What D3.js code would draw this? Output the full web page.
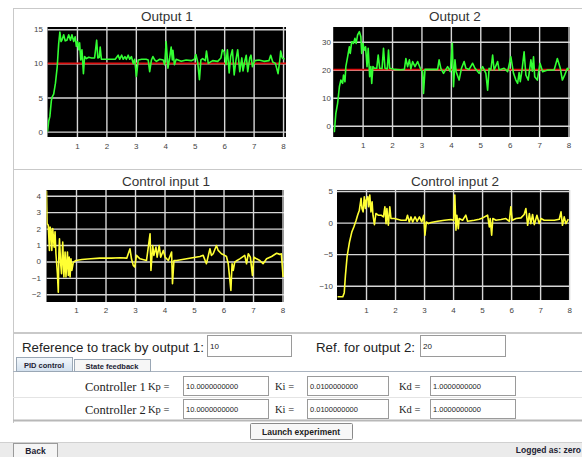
<!DOCTYPE html>
<html><head><meta charset="utf-8">
<script src="https://cdn.jsdelivr.net/npm/d3@7"></script>
<style>
body{margin:0;background:#fff;}
svg{display:block;font-family:Arial,"Liberation Sans",sans-serif;}
</style></head><body>
<svg id="c" width="582" height="457"></svg>
<script>
// ---------- data ----------
const xTicks = [1,2,3,4,5,6,7,8];
const out1Ticks = [0,5,10,15];
const out2Ticks = [0,10,20,30];
const ctl1Ticks = [-2,-1,0,1,2,3,4];
const ctl2Ticks = [-10,-5,0,5];
const ref1 = 10;
const ref2 = 20;
const titles = ["Output 1","Output 2","Control input 1","Control input 2"];

const output1 = [[0,0],[0.04,1.5],[0.08,2.2],[0.13,4.5],[0.16,5.1],[0.21,5.5],[0.27,7.1],[0.33,9.5],[0.38,12.9],[0.42,14.6],[0.46,13.2],[0.49,13.4],[0.55,14.2],[0.6,13.3],[0.66,13.4],[0.72,14.2],[0.78,13.4],[0.83,14.2],[0.89,13.2],[0.94,13.9],[0.98,12.5],[1.02,13.2],[1.06,12.0],[1.09,13.0],[1.13,10.5],[1.17,12.0],[1.22,8.5],[1.26,11.0],[1.32,10.7],[1.4,10.9],[1.5,10.8],[1.6,10.8],[1.67,13.4],[1.71,10.8],[1.76,10.9],[1.79,12.4],[1.83,10.6],[1.95,10.6],[2.1,10.6],[2.3,10.6],[2.4,11.2],[2.45,10.6],[2.52,11.2],[2.57,10.6],[2.63,11.0],[2.68,10.6],[2.74,11.2],[2.79,10.6],[2.85,11.0],[2.91,10.0],[2.96,10.6],[3.02,8.1],[3.08,10.5],[3.2,10.6],[3.35,10.6],[3.42,10.5],[3.47,8.8],[3.53,10.5],[3.58,11.0],[3.64,10.5],[3.7,10.3],[3.81,10.6],[3.93,10.5],[3.98,9.8],[4.03,13.2],[4.09,9.3],[4.15,10.8],[4.2,12.4],[4.24,10.5],[4.26,11.9],[4.31,9.8],[4.37,10.6],[4.54,10.3],[4.71,10.5],[4.88,10.4],[4.99,10.6],[5.04,11.3],[5.1,10.2],[5.16,7.6],[5.21,10.5],[5.27,10.7],[5.36,10.4],[5.4,11.8],[5.46,10.0],[5.61,10.4],[5.78,10.3],[5.89,10.8],[5.94,12.0],[6.0,11.7],[6.06,9.8],[6.11,12.0],[6.17,8.6],[6.22,11.0],[6.28,12.0],[6.34,8.3],[6.4,10.5],[6.46,12.0],[6.53,8.8],[6.6,10.8],[6.64,8.9],[6.71,10.5],[6.75,11.2],[6.8,8.8],[6.87,10.8],[6.91,11.2],[6.96,9.5],[7.04,10.4],[7.18,10.5],[7.35,10.3],[7.52,10.4],[7.58,11.2],[7.65,10.2],[7.74,10.0],[7.83,8.5],[7.89,10.5],[7.92,11.8],[7.97,10.8],[8.05,10.6]];

const output2 = [[0.02,-2.1],[0.04,-2.1],[0.09,4.4],[0.15,8.0],[0.21,13.9],[0.26,16.3],[0.32,15.1],[0.35,18.1],[0.40,15.7],[0.43,21.1],[0.49,24.6],[0.55,28.2],[0.58,25.8],[0.63,30.0],[0.69,29.4],[0.74,31.2],[0.78,29.4],[0.83,32.4],[0.89,33.6],[0.94,31.8],[0.97,25.8],[1.01,29.4],[1.06,27.0],[1.10,28.2],[1.15,21.1],[1.19,27.6],[1.24,17.5],[1.28,21.1],[1.31,15.1],[1.35,21.1],[1.40,20.5],[1.48,20.5],[1.53,25.2],[1.58,20.5],[1.66,20.4],[1.71,27.6],[1.76,20.5],[1.84,20.3],[1.88,27.0],[1.92,20.5],[2.1,20.1],[2.3,20.0],[2.42,20.1],[2.47,24.0],[2.53,21.1],[2.59,23.5],[2.64,20.3],[2.70,22.9],[2.78,21.1],[2.87,22.9],[2.96,20.5],[3.04,19.3],[3.07,11.5],[3.12,20.1],[3.3,20.1],[3.55,20.1],[3.60,23.5],[3.66,20.5],[3.75,18.7],[3.89,21.1],[3.98,19.3],[4.05,29.4],[4.09,13.9],[4.14,23.5],[4.18,19.3],[4.28,16.3],[4.36,20.5],[4.45,22.9],[4.51,20.5],[4.62,20.1],[4.74,22.3],[4.82,20.5],[4.96,18.7],[5.08,21.1],[5.19,18.7],[5.25,12.7],[5.30,20.5],[5.36,19.9],[5.42,25.2],[5.47,19.9],[5.59,22.9],[5.64,19.9],[5.81,20.5],[5.93,19.3],[6.04,24.6],[6.13,18.7],[6.21,16.3],[6.27,15.1],[6.32,19.0],[6.36,15.7],[6.42,20.0],[6.49,26.4],[6.55,18.1],[6.63,16.3],[6.72,23.5],[6.77,19.5],[6.81,24.6],[6.85,17.5],[6.94,16.3],[7.03,22.3],[7.12,19.3],[7.29,19.9],[7.51,19.9],[7.62,24.0],[7.72,20.5],[7.79,16.3],[7.87,18.1],[7.96,20.5],[8.02,20.0]];

const control1 = [[0,4.3],[0.02,2.3],[0.06,2.2],[0.10,0.67],[0.12,2.1],[0.15,1.9],[0.18,0.67],[0.21,2.0],[0.26,0.87],[0.29,1.8],[0.32,0.47],[0.37,-0.75],[0.40,-1.87],[0.42,0.5],[0.44,1.38],[0.48,-0.14],[0.51,-0.75],[0.55,1.18],[0.59,-0.95],[0.63,0.57],[0.66,-0.95],[0.71,0.57],[0.74,-0.85],[0.77,0.26],[0.80,-0.95],[0.83,0.16],[0.86,-0.55],[0.91,-0.04],[1.0,0.06],[1.2,0.12],[1.5,0.16],[1.81,0.2],[2.2,0.2],[2.5,0.22],[2.72,0.2],[2.83,0.77],[2.88,0.16],[2.94,-0.24],[2.99,-0.34],[3.05,0.37],[3.17,0.16],[3.39,0.06],[3.51,1.68],[3.54,-0.55],[3.60,0.97],[3.64,0.37],[3.71,0.87],[3.75,0.26],[3.82,0.97],[3.87,0.26],[3.96,0.67],[4.02,0.26],[4.13,0.06],[4.24,0.57],[4.27,-1.36],[4.32,0.06],[4.41,0.06],[4.8,0.18],[5.20,0.3],[5.31,0.37],[5.42,-0.14],[5.54,0.77],[5.59,0.37],[5.65,0.47],[5.76,0.97],[5.82,0.67],[5.93,0.47],[6.04,0.37],[6.10,0.3],[6.16,-0.14],[6.21,-1.05],[6.25,-1.76],[6.29,-0.14],[6.33,-0.55],[6.38,-0.04],[6.46,0.06],[6.55,0.16],[6.72,0.37],[6.78,-0.14],[6.84,0.47],[6.91,0.26],[6.98,-0.85],[7.03,0.26],[7.12,0.16],[7.23,0.06],[7.34,-0.14],[7.46,0.16],[7.63,0.3],[7.80,0.5],[7.91,0.43],[7.96,0.47],[8.02,-0.95]];

const control2 = [[0.02,-11.75],[0.20,-11.75],[0.25,-11.1],[0.29,-8.4],[0.35,-5.3],[0.43,-3.1],[0.51,-1.5],[0.58,-0.7],[0.66,0.37],[0.71,1.17],[0.77,1.97],[0.83,3.83],[0.86,2.23],[0.90,1.7],[0.94,4.1],[0.98,2.23],[1.01,3.56],[1.06,4.1],[1.09,2.5],[1.13,4.36],[1.17,1.7],[1.21,3.3],[1.24,1.17],[1.29,-0.32],[1.34,1.44],[1.42,1.17],[1.52,1.17],[1.60,0.9],[1.65,2.5],[1.69,-0.16],[1.72,2.23],[1.77,-0.43],[1.82,2.5],[1.86,0.64],[1.98,0.64],[2.21,0.37],[2.38,0.37],[2.43,1.17],[2.49,0.1],[2.55,0.9],[2.61,0.1],[2.69,0.9],[2.76,0.2],[2.84,0.9],[2.92,0.1],[2.99,1.17],[3.03,-2.0],[3.08,0.1],[3.15,-0.16],[3.24,0],[3.47,0.2],[3.70,0.37],[3.93,0.48],[4.02,0.37],[4.06,4.36],[4.10,-1.22],[4.13,1.17],[4.18,-0.96],[4.21,0.64],[4.33,0.37],[4.44,1.17],[4.50,0.2],[4.73,0.37],[4.90,0.53],[5.02,0.74],[5.19,1.17],[5.25,-0.7],[5.28,0.64],[5.33,-2.0],[5.37,0.64],[5.48,0.37],[5.65,0.48],[5.82,0.64],[5.94,0.2],[5.99,2.5],[6.04,0.37],[6.17,0.64],[6.34,0.74],[6.45,1.28],[6.51,2.23],[6.57,-0.43],[6.63,1.44],[6.68,-0.16],[6.74,1.28],[6.80,-0.32],[6.89,1.17],[6.97,-0.16],[7.03,0.64],[7.14,0.37],[7.32,0.37],[7.49,0.37],[7.66,0.53],[7.72,1.7],[7.77,-0.43],[7.83,0.9],[7.89,-0.16],[7.97,0.53]];

// form texts
const refLabels = ["Reference to track by output 1:", "Ref. for output 2:"];
const refValues = ["10", "20"];
const tabLabels = ["PID control", "State feedback"];
const controllerNames = ["Controller 1", "Controller 2"];
const gainNames = ["Kp =", "Ki =", "Kd ="];
const gainValues = [["10.0000000000","0.0100000000","1.0000000000"],["10.0000000000","0.0100000000","1.0000000000"]];

// ---------- drawing ----------
const svg = d3.select("#c");
const FRAME = "#c9c9c9";

svg.append("rect").attr("x",13.5).attr("y",8.5).attr("width",580).attr("height",324).attr("fill","#fff").attr("stroke",FRAME);
svg.append("line").attr("x1",13).attr("x2",582).attr("y1",169.5).attr("y2",169.5).attr("stroke",FRAME);

const panels = [
  {title:titles[0], tx:167, ty:21, xr:[47.5,286], xmax:8.1, yr:[137,27], yd:[-0.78,15.33], yt:out1Ticks, lx:43, data:output1, color:"#33ff33", ref:ref1, lblY:151},
  {title:titles[1], tx:455, ty:21, xr:[333.2,570], xmax:8.05, yr:[137,27], yd:[-4.04,35.25], yt:out2Ticks, lx:331, data:output2, color:"#33ff33", ref:ref2, lblY:150},
  {title:titles[2], tx:166, ty:186, xr:[46.5,284], xmax:8.05, yr:[302,190], yd:[-2.47,4.35], yt:ctl1Ticks, lx:41, data:control1, color:"#ffff33", ref:null, lblY:315},
  {title:titles[3], tx:455, ty:186, xr:[337,570], xmax:8.03, yr:[300,190], yd:[-12.26,5.16], yt:ctl2Ticks, lx:333, data:control2, color:"#ffff33", ref:null, lblY:315}
];

panels.forEach((p,i)=>{
  const g = svg.append("g");
  const x = d3.scaleLinear().domain([0,p.xmax]).range(p.xr);
  const y = d3.scaleLinear().domain(p.yd).range(p.yr);
  const w = p.xr[1]-p.xr[0], h = p.yr[0]-p.yr[1];
  g.append("text").attr("x",p.tx).attr("y",p.ty).attr("text-anchor","middle")
    .attr("font-size",13.5).attr("fill","#333").text(p.title);
  g.append("rect").attr("x",p.xr[0]).attr("y",p.yr[1]).attr("width",w).attr("height",h).attr("fill","#000");
  const gx = g.append("g").attr("transform",`translate(0,${p.yr[0]})`)
    .call(d3.axisBottom(x).tickValues(xTicks).tickSize(-h).tickFormat(""));
  const gy = g.append("g").attr("transform",`translate(${p.xr[0]},0)`)
    .call(d3.axisLeft(y).tickValues(p.yt).tickSize(-w).tickFormat(""));
  [gx,gy].forEach(a=>{a.select(".domain").remove(); a.selectAll("line").attr("stroke","#d6d6d6").attr("stroke-width",1.4);});
  const lx = g.append("g").attr("transform",`translate(0,${p.lblY-8})`)
    .call(d3.axisBottom(x).tickValues(xTicks).tickSize(0).tickPadding(0).tickFormat(d3.format("d")));
  const ly = g.append("g").attr("transform",`translate(${p.lx},0)`)
    .call(d3.axisLeft(y).tickValues(p.yt).tickSize(0).tickPadding(0).tickFormat(d3.format("d")));
  [lx,ly].forEach(a=>{a.select(".domain").remove(); a.selectAll("text").attr("font-size",8).attr("fill","#444").attr("font-family","Arial, 'Liberation Sans', sans-serif");});
  const cid = "clip"+i;
  g.append("clipPath").attr("id",cid).append("rect").attr("x",p.xr[0]).attr("y",p.yr[1]).attr("width",w).attr("height",h);
  const pg = g.append("g").attr("clip-path",`url(#${cid})`);
  if(p.ref!==null){
    pg.append("line").attr("x1",x(0)).attr("x2",x(p.xmax)).attr("y1",y(p.ref)).attr("y2",y(p.ref))
      .attr("stroke","#dd1111").attr("stroke-width",1.8);
  }
  const line = d3.line().x(d=>x(d[0])).y(d=>y(d[1]));
  pg.append("path").datum(p.data).attr("d",line).attr("fill","none")
    .attr("stroke",p.color).attr("stroke-width",1.6).attr("stroke-linejoin","round");
});

// ---------- form ----------
svg.append("line").attr("x1",13).attr("x2",582).attr("y1",333.5).attr("y2",333.5).attr("stroke",FRAME);
svg.append("line").attr("x1",13.5).attr("x2",13.5).attr("y1",333).attr("y2",423).attr("stroke",FRAME);

function box(x,y,w,h,txt,fs){
  svg.append("rect").attr("x",x+0.5).attr("y",y+0.5).attr("width",w).attr("height",h)
    .attr("fill","#fff").attr("stroke","#9a9a9a");
  if(txt) svg.append("text").attr("x",x+3).attr("y",y+h/2+3).attr("font-size",fs||8).attr("fill","#222").text(txt);
}
svg.append("text").attr("x",22).attr("y",352).attr("font-size",13.3).attr("fill","#222").text(refLabels[0]);
box(207,335,84,21,refValues[0],8);
svg.append("text").attr("x",316).attr("y",352).attr("font-size",13.3).attr("fill","#222").text(refLabels[1]);
box(420,335,85,21,refValues[1],8);

// tabs
svg.append("line").attr("x1",13).attr("x2",582).attr("y1",371.5).attr("y2",371.5).attr("stroke","#a9b3bf");
const tabG = svg.append("defs").append("linearGradient").attr("id","tabg").attr("x1",0).attr("x2",0).attr("y1",0).attr("y2",1);
tabG.append("stop").attr("offset","0").attr("stop-color","#f4f8fc");
tabG.append("stop").attr("offset","1").attr("stop-color","#d2e0ee");
svg.append("rect").attr("x",16.5).attr("y",357.5).attr("width",56).attr("height",14).attr("fill","url(#tabg)").attr("stroke","#9aa7b5");
svg.append("text").attr("x",44).attr("y",367.5).attr("text-anchor","middle").attr("font-size",7.5).attr("font-weight","bold").attr("fill","#223").text(tabLabels[0]);
svg.append("rect").attr("x",74.5).attr("y",359.5).attr("width",76).attr("height",12).attr("fill","#f6f6f6").attr("stroke","#9aa7b5");
svg.append("text").attr("x",112).attr("y",368.5).attr("text-anchor","middle").attr("font-size",7.5).attr("font-weight","bold").attr("fill","#223").text(tabLabels[1]);

// tab panel
svg.append("line").attr("x1",13).attr("x2",582).attr("y1",420.5).attr("y2",420.5).attr("stroke","#b8b8b8").attr("stroke-width",2);
svg.append("line").attr("x1",13).attr("x2",582).attr("y1",397.5).attr("y2",397.5).attr("stroke","#e4e4e4");
const rowY = [376,399];
const boxX = [183,307,430];
const boxW = [85,81,85];
const gainX = [148,275,399];
const serif = "'Liberation Serif','DejaVu Serif',serif";
controllerNames.forEach((n,r)=>{
  svg.append("text").attr("x",85).attr("y",rowY[r]+14.5).attr("font-family",serif)
    .attr("font-size",12.5).attr("fill","#222").text(n);
  gainNames.forEach((gname,k)=>{
    svg.append("text").attr("x",gainX[k]).attr("y",rowY[r]+14).attr("font-family",serif)
      .attr("font-size",10.5).attr("fill","#222").text(gname);
    box(boxX[k],rowY[r],boxW[k],19,gainValues[r][k],7.5);
  });
});

// launch button
svg.append("rect").attr("x",250.5).attr("y",423.5).attr("width",102).attr("height",16).attr("fill","#f7f7f7").attr("stroke","#8a8a8a").attr("rx",1);
svg.append("text").attr("x",301).attr("y",434.5).attr("text-anchor","middle").attr("font-size",8.5).attr("font-weight","bold").attr("fill","#222").text("Launch experiment");

// bottom strip
svg.append("rect").attr("x",0).attr("y",442).attr("width",582).attr("height",15).attr("fill","#ebebeb");
svg.append("line").attr("x1",0).attr("x2",582).attr("y1",442.5).attr("y2",442.5).attr("stroke","#d0d0d0");
svg.append("rect").attr("x",13.5).attr("y",443.5).attr("width",44).attr("height",14).attr("fill","#f5f5f5").attr("stroke","#9a9a9a");
svg.append("text").attr("x",35.5).attr("y",453.5).attr("text-anchor","middle").attr("font-size",8.5).attr("font-weight","bold").attr("fill","#223").text("Back");
svg.append("text").attr("x",581).attr("y",453).attr("text-anchor","end").attr("font-size",8.5).attr("font-weight","bold").attr("fill","#223").text("Logged as: zero");
</script>
</body></html>
